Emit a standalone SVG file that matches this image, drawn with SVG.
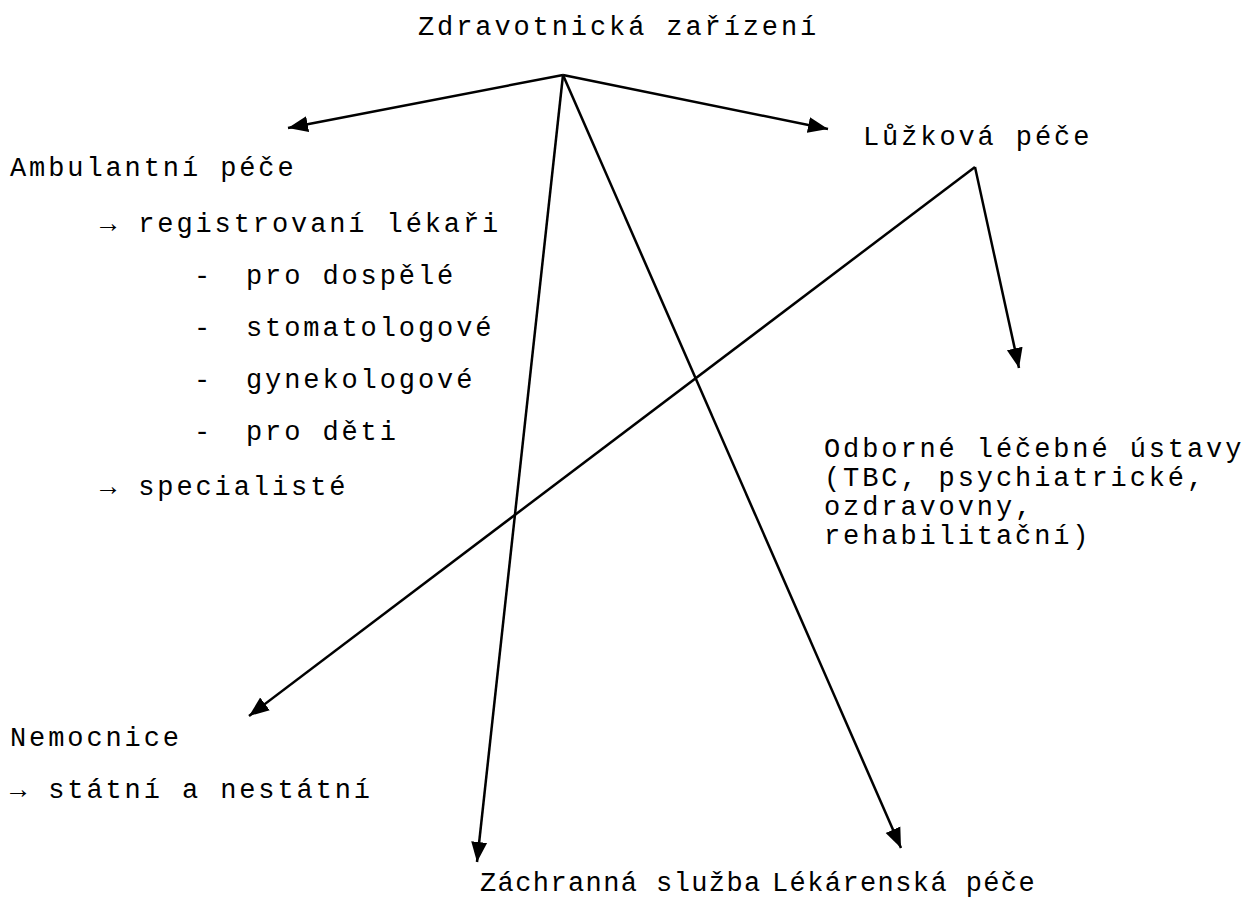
<svg xmlns="http://www.w3.org/2000/svg" width="1247" height="910" viewBox="0 0 1247 910">
<style>
text{font-family:"Liberation Mono","DejaVu Sans Mono",monospace;font-size:27px;letter-spacing:2.9px;fill:#000}
text.b{letter-spacing:1.4px}
.c{stroke:#000;stroke-width:2.5;fill:none;marker-end:url(#ah)}
</style>
<defs>
<marker id="ah" markerUnits="userSpaceOnUse" markerWidth="22" markerHeight="18" viewBox="0 0 22 18" refX="20" refY="9" orient="auto">
<path d="M0,1 L20,9 L0,17 Z" fill="#000"/>
</marker>
</defs>
<rect width="1247" height="910" fill="#fff"/>
<g id="connectors">
<line class="c" x1="563" y1="75" x2="288" y2="128"/>
<line class="c" x1="563" y1="75" x2="828" y2="129"/>
<line class="c" x1="563" y1="75" x2="477" y2="862"/>
<line class="c" x1="563" y1="75" x2="901" y2="848"/>
<line class="c" x1="975" y1="167" x2="249" y2="716"/>
<line class="c" x1="975" y1="167" x2="1019" y2="368"/>
</g>
<g id="root"><text x="418" y="35">Zdravotnická zařízení</text></g>
<g id="luzkova"><text x="863" y="145">Lůžková péče</text></g>
<g id="ambulantni">
<text x="10" y="176">Ambulantní péče</text>
<text x="100" y="232">→ registrovaní lékaři</text>
<text x="194" y="284">-<tspan x="246">pro dospělé</tspan></text>
<text x="194" y="336">-<tspan x="246">stomatologové</tspan></text>
<text x="194" y="388">-<tspan x="246">gynekologové</tspan></text>
<text x="194" y="440">-<tspan x="246">pro děti</tspan></text>
<text x="100" y="495">→ specialisté</text>
</g>
<g id="odborne">
<text x="824" y="457">Odborné léčebné ústavy</text>
<text x="824" y="486">(TBC, psychiatrické,</text>
<text x="824" y="515">ozdravovny,</text>
<text x="824" y="544">rehabilitační)</text>
</g>
<g id="nemocnice">
<text x="10" y="746">Nemocnice</text>
<text x="10" y="798">→ státní a nestátní</text>
</g>
<g id="zachranna"><text class="b" x="480" y="891">Záchranná služba</text></g>
<g id="lekarenska"><text class="b" x="772" y="891">Lékárenská péče</text></g>
</svg>
